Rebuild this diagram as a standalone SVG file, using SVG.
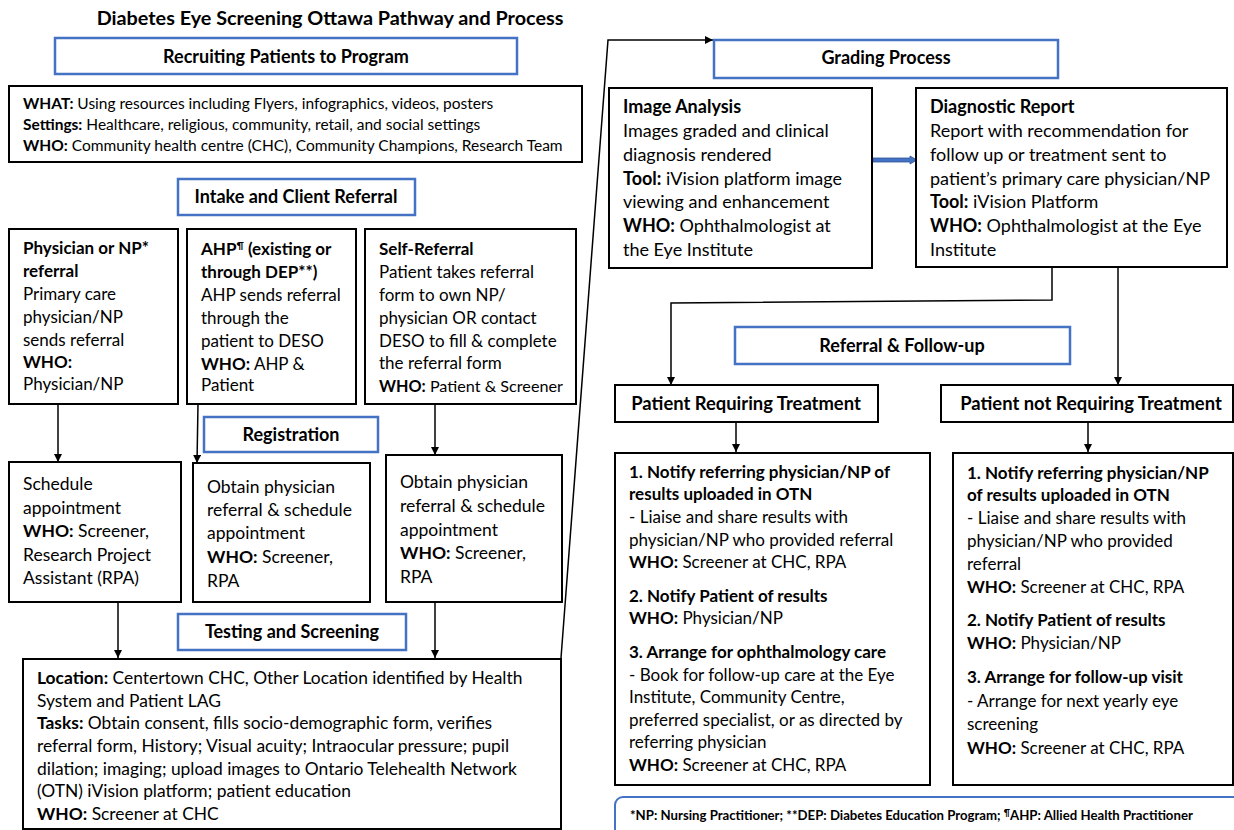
<svg xmlns="http://www.w3.org/2000/svg" width="1234" height="830" viewBox="0 0 1234 830">
<defs>
<style>
text{font-family:Lato,"Liberation Sans",sans-serif;fill:#000}
.b{font-weight:bold}
.box{fill:#fff;stroke:#000;stroke-width:2}
.blue{fill:#fff;stroke:#4472C4;stroke-width:2.5}
.hd{font-weight:bold;font-size:18px;text-anchor:middle}
.hp{font-weight:bold;font-size:18.4px;text-anchor:middle}
.s14{font-size:15.5px}
.s16{font-size:17px}
.s175{font-size:17.5px}
.st{font-size:17.4px}
.s15{font-size:17px}
.s17{font-size:18px}
.ln{fill:none;stroke:#000;stroke-width:1.5}
</style>
<marker id="ah" viewBox="0 0 10 10" refX="10" refY="5" markerWidth="8" markerHeight="8" markerUnits="userSpaceOnUse" orient="auto">
<path d="M0,0 L10,5 L0,10 z" fill="#000"/>
</marker>
</defs>
<rect width="1234" height="830" fill="#fff"/>
<text x="330" y="25" class="b" font-size="19.8" text-anchor="middle">Diabetes Eye Screening Ottawa Pathway and Process</text>

<g id="connectors">
<line class="ln" x1="58" y1="404" x2="58" y2="462" marker-end="url(#ah)"/>
<line class="ln" x1="198" y1="404" x2="197" y2="463" marker-end="url(#ah)"/>
<line class="ln" x1="435" y1="404" x2="435" y2="455" marker-end="url(#ah)"/>
<line class="ln" x1="118" y1="602" x2="118" y2="658" marker-end="url(#ah)"/>
<line class="ln" x1="435" y1="602" x2="435" y2="658" marker-end="url(#ah)"/>
<polyline class="ln" points="561,658 608,40 713,40" marker-end="url(#ah)"/>
<polyline class="ln" points="1052,268 1052,300 671,303 671,385" marker-end="url(#ah)"/>
<line class="ln" x1="1118" y1="268" x2="1118" y2="385" marker-end="url(#ah)"/>
<line class="ln" x1="736" y1="422" x2="736" y2="452" marker-end="url(#ah)"/>
<line class="ln" x1="1088" y1="422" x2="1088" y2="452" marker-end="url(#ah)"/>
<polygon points="873,158 910,158 910,156 917,160 910,164 910,162 873,162" fill="#4472C4" stroke="#2F5597" stroke-width="0.8"/>
</g>

<g id="recruiting">
<rect class="blue" x="55" y="38" width="462" height="36"/>
<text class="hd" x="286" y="63">Recruiting Patients to Program</text>
</g>
<g id="what">
<rect class="box" x="9" y="86" width="573" height="76"/>
<text class="s14" x="23" y="109"><tspan class="b">WHAT:</tspan> Using resources including Flyers, infographics, videos, posters</text>
<text class="s14" x="23" y="130"><tspan class="b">Settings:</tspan> Healthcare, religious, community, retail, and social settings</text>
<text class="s14" x="23" y="151"><tspan class="b">WHO:</tspan> Community health centre (CHC), Community Champions, Research Team</text>
</g>
<g id="intake">
<rect class="blue" x="178" y="179" width="237" height="36"/>
<text class="hd" x="296" y="203">Intake and Client Referral</text>
</g>
<g id="physician">
<rect class="box" x="9" y="229" width="169" height="175"/>
<text class="s16 b" x="23" y="254">Physician or NP*</text>
<text class="s16 b" x="23" y="277">referral</text>
<text class="s16" x="23" y="300">Primary care</text>
<text class="s16" x="23" y="323">physician/NP</text>
<text class="s16" x="23" y="346">sends referral</text>
<text class="s16 b" x="23" y="368">WHO:</text>
<text class="s16" x="23" y="390">Physician/NP</text>
</g>
<g id="ahp">
<rect class="box" x="187" y="229" width="169" height="175"/>
<text class="s16 b" x="201" y="255">AHP<tspan font-size="10" dy="-6">¶</tspan><tspan dy="6"> (existing or</tspan></text>
<text class="s16 b" x="201" y="278">through DEP**)</text>
<text class="s16" x="201" y="301">AHP sends referral</text>
<text class="s16" x="201" y="324">through the</text>
<text class="s16" x="201" y="347">patient to DESO</text>
<text class="s16" x="201" y="370"><tspan class="b">WHO:</tspan> AHP &amp;</text>
<text class="s16" x="201" y="391">Patient</text>
</g>
<g id="self">
<rect class="box" x="365" y="229" width="211" height="175"/>
<text class="s16 b" x="379" y="255">Self-Referral</text>
<text class="s16" x="379" y="278">Patient takes referral</text>
<text class="s16" x="379" y="301">form to own NP/</text>
<text class="s16" x="379" y="324">physician OR contact</text>
<text class="s16" x="379" y="347">DESO to fill &amp; complete</text>
<text class="s16" x="379" y="369">the referral form</text>
<text font-size="16.2" x="379" y="392"><tspan class="b">WHO:</tspan> Patient &amp; Screener</text>
</g>
<g id="registration">
<rect class="blue" x="204" y="417" width="174" height="35"/>
<text class="hd" x="291" y="441">Registration</text>
</g>
<g id="schedule">
<rect class="box" x="9" y="462" width="172" height="140"/>
<text class="s175" x="23" y="490">Schedule</text>
<text class="s175" x="23" y="514">appointment</text>
<text class="s175" x="23" y="537"><tspan class="b">WHO:</tspan> Screener,</text>
<text class="s175" x="23" y="561">Research Project</text>
<text class="s175" x="23" y="584">Assistant (RPA)</text>
</g>
<g id="obtain1">
<rect class="box" x="193" y="463" width="177" height="139"/>
<text class="s175" x="207" y="493">Obtain physician</text>
<text class="s175" x="207" y="516">referral &amp; schedule</text>
<text class="s175" x="207" y="539">appointment</text>
<text class="s175" x="207" y="563"><tspan class="b">WHO:</tspan> Screener,</text>
<text class="s175" x="207" y="587">RPA</text>
</g>
<g id="obtain2">
<rect class="box" x="386" y="455" width="176" height="147"/>
<text class="s175" x="400" y="488">Obtain physician</text>
<text class="s175" x="400" y="512">referral &amp; schedule</text>
<text class="s175" x="400" y="536">appointment</text>
<text class="s175" x="400" y="559"><tspan class="b">WHO:</tspan> Screener,</text>
<text class="s175" x="400" y="583">RPA</text>
</g>
<g id="testing-label">
<rect class="blue" x="178" y="614" width="228" height="36"/>
<text class="hd" x="292" y="638">Testing and Screening</text>
</g>
<g id="testing">
<rect class="box" x="23" y="659" width="538" height="170"/>
<text class="st" x="37" y="684"><tspan class="b">Location:</tspan> Centertown CHC, Other Location identified by Health</text>
<text class="st" x="37" y="707">System and Patient LAG</text>
<text class="st" x="37" y="729"><tspan class="b">Tasks:</tspan> Obtain consent, fills socio-demographic form, verifies</text>
<text class="st" x="37" y="752">referral form, History; Visual acuity; Intraocular pressure; pupil</text>
<text class="st" x="37" y="775">dilation; imaging; upload images to Ontario Telehealth Network</text>
<text class="st" x="37" y="797">(OTN) iVision platform; patient education</text>
<text class="st" x="37" y="820"><tspan class="b">WHO:</tspan> Screener at CHC</text>
</g>

<g id="grading-label">
<rect class="blue" x="714" y="40" width="344" height="38"/>
<text class="hd" x="886" y="64">Grading Process</text>
</g>
<g id="image-analysis">
<rect class="box" x="609" y="88" width="263" height="180"/>
<text class="s17 b" x="623" y="113">Image Analysis</text>
<text class="s17" x="623" y="137">Images graded and clinical</text>
<text class="s17" x="623" y="161">diagnosis rendered</text>
<text class="s17" x="623" y="185"><tspan class="b">Tool:</tspan> iVision platform image</text>
<text class="s17" x="623" y="208">viewing and enhancement</text>
<text class="s17" x="623" y="232"><tspan class="b">WHO:</tspan> Ophthalmologist at</text>
<text class="s17" x="623" y="256">the Eye Institute</text>
</g>
<g id="diagnostic">
<rect class="box" x="916" y="88" width="311" height="179"/>
<text class="s17 b" x="930" y="113">Diagnostic Report</text>
<text class="s17" x="930" y="137">Report with recommendation for</text>
<text class="s17" x="930" y="161">follow up or treatment sent to</text>
<text class="s17" x="930" y="185">patient’s primary care physician/NP</text>
<text class="s17" x="930" y="208"><tspan class="b">Tool:</tspan> iVision Platform</text>
<text class="s17" x="930" y="232"><tspan class="b">WHO:</tspan> Ophthalmologist at the Eye</text>
<text class="s17" x="930" y="256">Institute</text>
</g>
<g id="referral-label">
<rect class="blue" x="735" y="327" width="335" height="37"/>
<text class="hd" x="902" y="352">Referral &amp; Follow-up</text>
</g>
<g id="requiring">
<rect class="box" x="615" y="385" width="263" height="37"/>
<text class="hp" x="746" y="410">Patient Requiring Treatment</text>
</g>
<g id="not-requiring">
<rect class="box" x="941" y="385" width="292" height="37"/>
<text class="hp" x="1091" y="410">Patient not Requiring Treatment</text>
</g>
<g id="treatment-steps">
<rect class="box" x="615" y="453" width="315" height="332"/>
<text class="s15 b" x="629" y="478">1. Notify referring physician/NP of</text>
<text class="s15 b" x="629" y="500">results uploaded in OTN</text>
<text class="s15" x="629" y="523">- Liaise and share results with</text>
<text class="s15" x="629" y="546">physician/NP who provided referral</text>
<text class="s15" x="629" y="568"><tspan class="b">WHO:</tspan> Screener at CHC, RPA</text>
<text class="s15 b" x="629" y="602">2. Notify Patient of results</text>
<text class="s15" x="629" y="624"><tspan class="b">WHO:</tspan> Physician/NP</text>
<text class="s15 b" x="629" y="658">3. Arrange for ophthalmology care</text>
<text class="s15" x="629" y="681">- Book for follow-up care at the Eye</text>
<text class="s15" x="629" y="703">Institute, Community Centre,</text>
<text class="s15" x="629" y="726">preferred specialist, or as directed by</text>
<text class="s15" x="629" y="748">referring physician</text>
<text class="s15" x="629" y="771"><tspan class="b">WHO:</tspan> Screener at CHC, RPA</text>
</g>
<g id="no-treatment-steps">
<rect class="box" x="953" y="453" width="280" height="332"/>
<text class="s15 b" x="967" y="479">1. Notify referring physician/NP</text>
<text class="s15 b" x="967" y="501">of results uploaded in OTN</text>
<text class="s15" x="967" y="524">- Liaise and share results with</text>
<text class="s15" x="967" y="547">physician/NP who provided</text>
<text class="s15" x="967" y="570">referral</text>
<text class="s15" x="967" y="593"><tspan class="b">WHO:</tspan> Screener at CHC, RPA</text>
<text class="s15 b" x="967" y="626">2. Notify Patient of results</text>
<text class="s15" x="967" y="649"><tspan class="b">WHO:</tspan> Physician/NP</text>
<text class="s15 b" x="967" y="683">3. Arrange for follow-up visit</text>
<text class="s15" x="967" y="707">- Arrange for next yearly eye</text>
<text class="s15" x="967" y="730">screening</text>
<text class="s15" x="967" y="754"><tspan class="b">WHO:</tspan> Screener at CHC, RPA</text>
</g>
<g id="footnote">
<rect x="615" y="797" width="640" height="60" rx="8" fill="#fff" stroke="#4472C4" stroke-width="2"/>
<text class="b" font-size="13.2" x="630" y="820">*NP: Nursing Practitioner; **DEP: Diabetes Education Program; <tspan font-size="8.5" dy="-4">¶</tspan><tspan dy="4">AHP: Allied Health Practitioner</tspan></text>
</g>
</svg>
